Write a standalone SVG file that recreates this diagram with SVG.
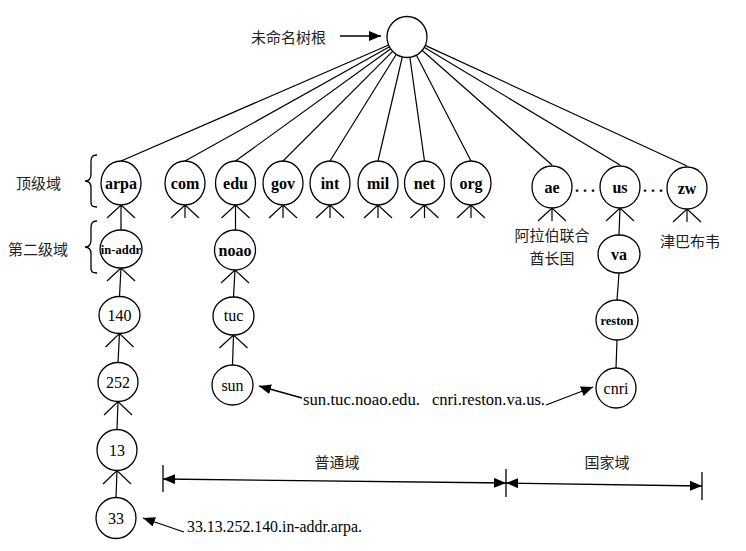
<svg xmlns="http://www.w3.org/2000/svg" width="746" height="551" viewBox="0 0 746 551">
<style>
.n{fill:#fff;stroke:#000;stroke-width:1.3}
.l{fill:none;stroke:#000;stroke-width:1.2}
.t{font-family:"Liberation Serif",serif;font-size:16px;font-weight:bold;text-anchor:middle;fill:#000}
.r{font-weight:normal}
.s{font-size:12.5px}
.lab{font-family:"Liberation Serif",serif;font-size:16px;fill:#000}
.cn{font-family:"Liberation Sans","Noto Sans CJK SC",sans-serif;font-size:15px;font-weight:normal;fill:#222}
.a{fill:none;stroke:#000;stroke-width:1.3}
</style>
<defs>
<marker id="ah" viewBox="0 0 12 10" refX="12" refY="5" markerWidth="12" markerHeight="10" markerUnits="userSpaceOnUse" orient="auto-start-reverse"><path d="M0,0 L12,5 L0,10 z" fill="#000"/></marker>
</defs>
<rect width="746" height="551" fill="#fff"/>

<g id="connectors">
<path class="l" d="M388.7,45 L121,161 M389.5,46.8 L185,161 M390.8,48.7 L235.5,161 M392.9,51.1 L283,161 M396.5,54 L330,161 M402.4,56.5 L378,161 M409.8,56.8 L424.5,161 M416.2,54.8 L471,161 M422,50.2 L552,165 M424.1,47.3 L620,165 M425.2,45.4 L687,166"/>
<path class="l" d="M107,218 L121,205 L135,218 M121,205 L121,230"/>
<path class="l" d="M171,218 L185,205 L199,218 M185,205 L185,218"/>
<path class="l" d="M221.5,218 L235.5,205 L249.5,218 M235.5,205 L235.5,230"/>
<path class="l" d="M269,218 L283,205 L297,218 M283,205 L283,218"/>
<path class="l" d="M316,218 L330,205 L344,218 M330,205 L330,218"/>
<path class="l" d="M364,218 L378,205 L392,218 M378,205 L378,218"/>
<path class="l" d="M410.5,218 L424.5,205 L438.5,218 M424.5,205 L424.5,218"/>
<path class="l" d="M457,218 L471,205 L485,218 M471,205 L471,218"/>
<path class="l" d="M538,221 L552,208 L566,221 M552,208 L552,221"/>
<path class="l" d="M606,221 L620,208 L634,221 M620,208 L619,235"/>
<path class="l" d="M673,222 L687,209 L701,222 M687,209 L687,222"/>
<path class="l" d="M107,281 L121,268 L135,281 M121,268 L119.5,296.5"/>
<path class="l" d="M105.5,347 L119.5,333.5 L133.5,347 M119.5,333.5 L118,362.5"/>
<path class="l" d="M104,415 L118,401.5 L132,415 M118,401.5 L117,429.5"/>
<path class="l" d="M103,484 L117,470.5 L131,484 M117,470.5 L116,497.5"/>
<path class="l" d="M221,283 L235,270 L249,283 M235,270 L233.5,297"/>
<path class="l" d="M219.5,348 L233.5,335 L247.5,348 M233.5,335 L232.5,365"/>
<path class="l" d="M619,273 L617,300 M617,340 L616,368"/>
<path class="a" d="M340,36 L381,36" marker-end="url(#ah)"/>
<path class="a" d="M302,398 L259,386" marker-end="url(#ah)"/>
<path class="a" d="M546,405 L593,387" marker-end="url(#ah)"/>
<path class="a" d="M184,532 L143,518" marker-end="url(#ah)"/>
<path class="a" d="M163,479 L506,483" marker-start="url(#ah)" marker-end="url(#ah)"/>
<path class="a" d="M506,483 L702,486" marker-start="url(#ah)" marker-end="url(#ah)"/>
<path class="a" d="M163,465 L163,492 M506,469 L506,497 M702,472 L702,500"/>
<path class="a" d="M97,155 C90,155 91,160 91,167 L91,174 C91,179 89,181 85,181 C89,181 91,183 91,188 L91,198 C91,204 90,207 97,207"/>
<path class="a" d="M97,221 C90,221 91,226 91,233 L91,240 C91,245 89,247 85,247 C89,247 91,249 91,254 L91,264 C91,270 90,273 97,273"/>
</g>

<g id="root"><ellipse class="n" cx="407" cy="37" rx="20" ry="20.5"/></g>
<g id="arpa"><ellipse class="n" cx="121" cy="183" rx="20" ry="22"/><text class="t" x="121" y="188.5">arpa</text></g>
<g id="com"><ellipse class="n" cx="185" cy="183" rx="20" ry="22"/><text class="t" x="185" y="188.5">com</text></g>
<g id="edu"><ellipse class="n" cx="235.5" cy="183" rx="20" ry="22"/><text class="t" x="235.5" y="188.5">edu</text></g>
<g id="gov"><ellipse class="n" cx="283" cy="183" rx="20" ry="22"/><text class="t" x="283" y="188.5">gov</text></g>
<g id="int"><ellipse class="n" cx="330" cy="183" rx="20" ry="22"/><text class="t" x="330" y="188.5">int</text></g>
<g id="mil"><ellipse class="n" cx="378" cy="183" rx="20" ry="22"/><text class="t" x="378" y="188.5">mil</text></g>
<g id="net"><ellipse class="n" cx="424.5" cy="183" rx="20" ry="22"/><text class="t" x="424.5" y="188.5">net</text></g>
<g id="org"><ellipse class="n" cx="471" cy="183" rx="20" ry="22"/><text class="t" x="471" y="188.5">org</text></g>
<g id="ae"><ellipse class="n" cx="552" cy="187" rx="20" ry="21"/><text class="t" x="552" y="192.5">ae</text></g>
<g id="us"><ellipse class="n" cx="620" cy="187" rx="20" ry="21"/><text class="t" x="620" y="192.5">us</text></g>
<g id="zw"><ellipse class="n" cx="687" cy="188" rx="20" ry="21"/><text class="t" x="687" y="193.5">zw</text></g>
<g id="dots"><text class="t" x="587" y="192" style="letter-spacing:4px">...</text><text class="t" x="655" y="192" style="letter-spacing:4px">...</text></g>
<g id="in-addr"><ellipse class="n" cx="121" cy="249" rx="21" ry="19"/><text class="t s" x="121" y="253.5">in-addr</text></g>
<g id="n140"><ellipse class="n" cx="119.5" cy="315" rx="20.5" ry="18.5"/><text class="t r" x="119.5" y="320.5">140</text></g>
<g id="n252"><ellipse class="n" cx="118" cy="382" rx="20" ry="19.5"/><text class="t r" x="118" y="387.5">252</text></g>
<g id="n13"><ellipse class="n" cx="117" cy="450" rx="20" ry="20.5"/><text class="t r" x="117" y="455.5">13</text></g>
<g id="n33"><ellipse class="n" cx="116" cy="518" rx="20" ry="20.5"/><text class="t r" x="116" y="523.5">33</text></g>
<g id="noao"><ellipse class="n" cx="235" cy="250" rx="20.5" ry="20"/><text class="t" x="235" y="255.5">noao</text></g>
<g id="tuc"><ellipse class="n" cx="233.5" cy="316" rx="20.5" ry="19"/><text class="t r" x="233.5" y="321">tuc</text></g>
<g id="sun"><ellipse class="n" cx="232.5" cy="385" rx="20.5" ry="20"/><text class="t r" x="232.5" y="390.5">sun</text></g>
<g id="va"><ellipse class="n" cx="619" cy="254" rx="21" ry="19"/><text class="t" x="619" y="259.5">va</text></g>
<g id="reston"><ellipse class="n" cx="617" cy="320" rx="21" ry="20"/><text class="t s" x="617" y="324.5">reston</text></g>
<g id="cnri"><ellipse class="n" cx="616" cy="388" rx="20" ry="20"/><text class="t r" x="616" y="393.5">cnri</text></g>

<g id="labels">
<text class="cn" x="251" y="42.7">未命名树根</text>
<text class="cn" x="16" y="188.7">顶级域</text>
<text class="cn" x="8" y="254.7">第二级域</text>
<text class="cn" x="552" y="240.7" text-anchor="middle">阿拉伯联合</text>
<text class="cn" x="552" y="264" text-anchor="middle">酋长国</text>
<text class="cn" x="690" y="247" text-anchor="middle">津巴布韦</text>
<text class="cn" x="337" y="467.5" text-anchor="middle">普通域</text>
<text class="cn" x="607" y="467.5" text-anchor="middle">国家域</text>
<text class="lab" x="303" y="404.5" textLength="117" lengthAdjust="spacingAndGlyphs">sun.tuc.noao.edu.</text>
<text class="lab" x="432" y="405" textLength="113" lengthAdjust="spacingAndGlyphs">cnri.reston.va.us.</text>
<text class="lab" x="187" y="532" textLength="175" lengthAdjust="spacingAndGlyphs">33.13.252.140.in-addr.arpa.</text>
</g>
</svg>
